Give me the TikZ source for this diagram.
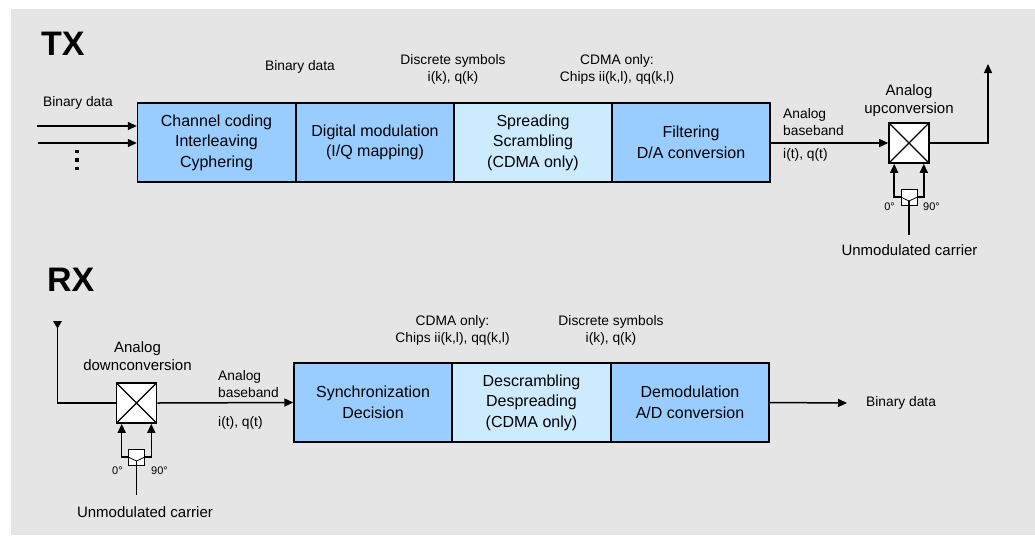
\documentclass[tikz,border=0pt]{standalone}
\usepackage{fontspec}
\setmainfont{Liberation Sans}
\usetikzlibrary{arrows.meta}
\definecolor{bg}{HTML}{E5E5E5}
\definecolor{dblue}{HTML}{99CCFF}
\definecolor{lblue}{HTML}{CCEBFF}
\begin{document}
\begin{tikzpicture}[x=1pt,y=-1pt,
 blk/.style={draw, line width=1.4pt, fill=dblue, minimum width=158pt, minimum height=79pt, align=center, inner sep=0pt, font=\fontsize{16}{20.5}\selectfont},
 lblk/.style={blk, fill=lblue},
 arr/.style={line width=1.5pt, -{Triangle[length=9pt,width=8pt]}},
 ln/.style={line width=1.5pt},
 mixer/.style={draw, line width=1.6pt, fill=white, minimum size=40pt, inner sep=0pt, path picture={\draw[line width=1.2pt] (path picture bounding box.south west) -- (path picture bounding box.north east) (path picture bounding box.north west) -- (path picture bounding box.south east);}},
 splitbox/.style={draw, line width=0.8pt, fill=white, minimum size=16pt, inner sep=0pt},
 lab/.style={font=\fontsize{13.8}{17}\selectfont, align=center, inner sep=0pt},
 llab/.style={font=\fontsize{13.8}{16.5}\selectfont, align=left, inner sep=0pt, anchor=west},
 mlab/.style={font=\fontsize{15}{18}\selectfont, align=center, inner sep=0pt},
 deg/.style={font=\fontsize{11}{13}\selectfont, inner sep=0pt},
 ttl/.style={font=\fontsize{34}{34}\selectfont\bfseries, inner sep=0pt, anchor=west}
]
\useasboundingbox (0,0) rectangle (1035,536);
\fill[bg] (11,9) rectangle (1035,535);

% ---------------- TX ----------------
\node[ttl] (tx) at (41,44) {TX};
\node[blk]  (b1) at (216.5,142.5) {Channel coding\\Interleaving\\Cyphering};
\node[blk]  (b2) at (375,142.5) {Digital modulation\\(I/Q mapping)};
\node[lblk] (b3) at (533,142.5) {Spreading\\Scrambling\\(CDMA only)};
\node[blk]  (b4) at (691,142.5) {Filtering\\D/A conversion};

\node[lab] (lbin) at (78,103) {Binary data};
\node[lab] (lbin2) at (300,67) {Binary data};
\node[lab] (lsym) at (453,69.5) {Discrete symbols\\i(k), q(k)};
\node[lab] (lchip) at (617,69.5) {CDMA only:\\Chips ii(k,l), qq(k,l)};

\coordinate (in1) at (37,126);
\coordinate (in2) at (38,143);
\draw[arr] (in1) -- (in1 -| b1.west);
\draw[arr] (in2) -- (in2 -| b1.west);
\foreach \yy in {153,161.5,170} \fill (75,\yy) rectangle +(4,-3.5);

\node[mixer] (mtx) at (909,143) {};
\node[mlab] (lup) at (909,101) {Analog\\upconversion};
\node[llab] (lbbt) at (783,122) {Analog\\baseband};
\node[llab] (litt) at (783,155) {i(t), q(t)};
\draw[arr] (b4.east |- mtx.west) -- (mtx.west);
\coordinate (atx) at (988,64);
\draw[arr] (mtx.east) -| (atx);

\node[splitbox] (stx) at (909,197) {};
\draw[arr] (stx.west) -| ([xshift=6pt]mtx.south west);
\draw[arr] (stx.east) -| ([xshift=-6pt]mtx.south east);
\coordinate (vtx) at (909,201);
\draw[line width=0.8pt] (stx.west) -- (vtx) -- (stx.east);
\coordinate (ctx) at (909,235);
\draw[ln] (vtx) -- (ctx);
\node[deg] (d0t) at (889.5,207) {0°};
\node[deg] (d90t) at (931.5,207) {90°};
\node[mlab] (lcart) at (909.5,250) {Unmodulated carrier};

% ---------------- RX ----------------
\node[ttl] (rx) at (47,280) {RX};
\node[blk]  (r1) at (373,402.5) {Synchronization\\Decision};
\node[lblk] (r2) at (531.5,402.5) {Descrambling\\Despreading\\(CDMA only)};
\node[blk]  (r3) at (690,402.5) {Demodulation\\A/D conversion};

\node[lab] (lchipr) at (452.5,330) {CDMA only:\\Chips ii(k,l), qq(k,l)};
\node[lab] (lsymr) at (611,330) {Discrete symbols\\i(k), q(k)};

\node[mixer] (mrx) at (136.5,403) {};
\node[mlab] (ldown) at (137.5,356) {Analog\\downconversion};
\node[llab] (lbbr) at (218,384) {Analog\\baseband};
\node[llab] (litr) at (218,423) {i(t), q(t)};

\coordinate (ant) at (57.5,323);
\fill (53,321) -- (62,321) -- (57.5,328.5) -- cycle;
\draw[ln] (ant) |- (mrx.west);
\draw[arr] (mrx.east) -- (r1.west);

\node[splitbox] (srx) at (136.5,457) {};
\draw[arr] (srx.west) -| ([xshift=6pt]mrx.south west);
\draw[arr] (srx.east) -| ([xshift=-6pt]mrx.south east);
\coordinate (vrx) at (136.5,461);
\draw[line width=0.8pt] (srx.west) -- (vrx) -- (srx.east);
\coordinate (crx) at (136.5,495);
\draw[ln] (vrx) -- (crx);
\node[deg] (d0r) at (117.5,470.5) {0°};
\node[deg] (d90r) at (159.5,470.5) {90°};
\node[mlab] (lcarr) at (145,512) {Unmodulated carrier};

\coordinate (rout) at (847,403);
\draw[arr] (r3.east) -- (rout);
\node[llab] (lbinr) at (866,403) {Binary data};
\end{tikzpicture}
\end{document}
